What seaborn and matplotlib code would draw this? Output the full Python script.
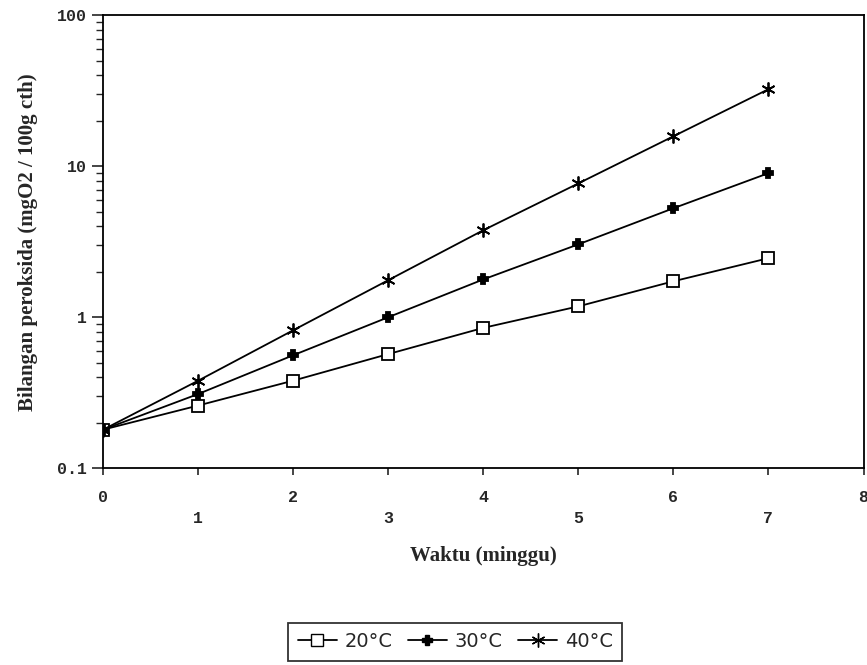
import matplotlib
matplotlib.use("Agg")
import matplotlib.pyplot as plt
import seaborn as sns
import pandas as pd
from matplotlib.lines import Line2D

weeks = [0, 1, 2, 3, 4, 5, 6, 7]
series_names = ["20°C", "30°C", "40°C"]
values_20 = [0.18, 0.26, 0.38, 0.57, 0.85, 1.18, 1.73, 2.46]
values_30 = [0.18, 0.31, 0.56, 1.00, 1.78, 3.04, 5.27, 9.0]
values_40 = [0.18, 0.38, 0.82, 1.76, 3.77, 7.7, 15.8, 32.4]

sns.set_style("white")
fig = plt.figure(figsize=(8.67, 6.65), dpi=100)
ax = fig.add_axes([0.119, 0.296, 0.877, 0.681])

styles = [
    dict(marker="s", markerfacecolor="white", markersize=8),
    dict(marker="P", markerfacecolor="black", markersize=7),
    dict(marker=(6, 2, 0), markersize=10),
]
for name, vals, st in zip(series_names, [values_20, values_30, values_40], styles):
    d = pd.DataFrame({"week": weeks, "value": vals})
    sns.lineplot(data=d, x="week", y="value", color="black", ax=ax, linewidth=1.3,
                 markeredgecolor="black", markeredgewidth=1.3, **st)

ax.set_yscale("log")
ax.set_ylim(0.1, 100)
ax.set_xlim(0, 8)
for s in ax.spines.values():
    s.set_color("black")
    s.set_linewidth(1.3)

mono = {"family": "Liberation Mono", "weight": "bold", "size": 12}
ax.set_yticks([0.1, 1, 10, 100])
ax.set_yticklabels(["0.1", "1", "10", "100"], fontdict=mono)
ax.tick_params(axis="y", which="major", direction="out", length=8, width=1.2, left=True)
ax.tick_params(axis="y", which="minor", direction="out", length=5, width=1.0, left=True)

ax.set_xticks([0, 2, 4, 6, 8])
ax.set_xticklabels(["0", "2", "4", "6", "8"], fontdict=mono)
ax.set_xticks([1, 3, 5, 7], minor=True)
ax.set_xticklabels(["1", "3", "5", "7"], minor=True, fontdict=mono)
ax.tick_params(axis="x", which="major", direction="out", length=5, width=1.2, bottom=True, pad=11)
ax.tick_params(axis="x", which="minor", direction="out", length=5, width=1.2, bottom=True, pad=26)

serif = {"family": "Liberation Serif", "weight": "bold", "size": 15}
ax.set_xlabel("Waktu (minggu)", fontdict=serif, labelpad=14)
ax.set_ylabel("Bilangan peroksida (mgO2 / 100g cth)", fontdict=serif, labelpad=14)

handles = [
    Line2D([], [], color="black", marker="s", markerfacecolor="white", markersize=8, lw=1.3),
    Line2D([], [], color="black", marker="P", markerfacecolor="black", markersize=7, lw=1.3),
    Line2D([], [], color="black", marker=(6, 2, 0), markersize=10, lw=1.3),
]
leg = fig.legend(handles, series_names, loc="center", bbox_to_anchor=(0.525, 0.035),
                 ncol=3, frameon=True, fancybox=False, handlelength=2.0,
                 columnspacing=0.8, handletextpad=0.4, borderpad=0.5,
                 prop={"family": "DejaVu Sans", "size": 14})
leg.get_frame().set_edgecolor("black")
leg.get_frame().set_linewidth(1.3)

fig.savefig("out.png", dpi=100)
